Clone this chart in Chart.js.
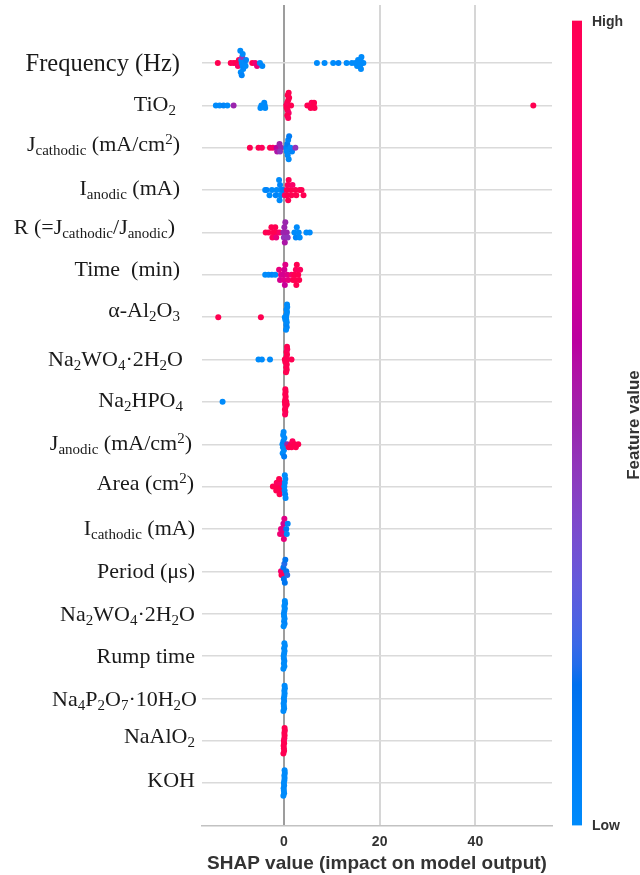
<!DOCTYPE html>
<html>
<head>
<meta charset="utf-8">
<script src="https://cdn.jsdelivr.net/npm/chart.js@4.4.1/dist/chart.umd.min.js"></script>
<style>
  html, body { margin: 0; padding: 0; background: #ffffff; }
  #wrap { position: relative; width: 640px; height: 875px; }
</style>
</head>
<body>
<div id="wrap"><canvas id="shap"></canvas></div>
<script>
// Feature names, top (most important) to bottom; _{..} is a subscript, ^{..} a superscript
const featureLabels = [
  'Frequency (Hz)',
  'TiO_{2}',
  'J_{cathodic} (mA/cm^{2})',
  'I_{anodic} (mA)',
  'R (=J_{cathodic}/J_{anodic})',
  'Time  (min)',
  'α-Al_{2}O_{3}',
  'Na_{2}WO_{4}·2H_{2}O',
  'Na_{2}HPO_{4}',
  'J_{anodic} (mA/cm^{2})',
  'Area (cm^{2})',
  'I_{cathodic} (mA)',
  'Period (μs)',
  'Na_{2}WO_{4}·2H_{2}O',
  'Rump time',
  'Na_{4}P_{2}O_{7}·10H_{2}O',
  'NaAlO_{2}',
  'KOH'
];

const xTicks = [0, 20, 40];

// Each entry: [SHAP value, normalised feature value (0 = low, 1 = high)]
const FREQUENCY = [
  [-13.8, 1], [-11.1, 1], [-10.5, 0.95], [-10.0, 1], [-9.6, 0.9], [-9.4, 1],
  [-8.8, 0], [-8.6, 0], [-8.9, 0], [-8.5, 0.02], [-8.7, 0.45], [-9.0, 0], [-8.6, 0], [-8.8, 0.05], [-9.1, 0],
  [-8.2, 0], [-8.0, 0], [-7.9, 0.05],
  [-6.6, 1], [-6.0, 0.85], [-5.6, 0.8], [-5.0, 0], [-4.5, 0.02],
  [6.9, 0], [8.5, 0], [10.3, 0], [11.4, 0.05], [13.1, 0], [14.2, 0],
  [14.9, 0], [15.3, 0], [15.5, 0],
  [15.8, 0], [15.9, 0], [16.0, 0], [16.1, 0], [16.2, 0],
  [16.6, 0]
];
const TIO2 = [
  [-14.2, 0], [-13.4, 0], [-12.6, 0.05], [-11.8, 0], [-10.5, 0.5],
  [-4.0, 0], [-3.9, 0], [-4.1, 0.02], [-4.7, 0], [-4.9, 0],
  [0.5, 1], [0.6, 1], [0.7, 0.95], [0.8, 1], [0.9, 1], [1.0, 0.9], [1.1, 1], [0.7, 1], [0.8, 1], [0.9, 0.95], [1.0, 1],
  [1.5, 1],
  [4.9, 1], [5.4, 1], [5.6, 1], [5.8, 0.95], [6.2, 1], [6.4, 1], [6.3, 1],
  [52.1, 1]
];
const J_CATHODIC = [
  [-7.1, 1], [-5.3, 1], [-4.6, 0.95], [-2.9, 1], [-2.3, 0.9],
  [-1.5, 0.6], [-1.4, 0.55],
  [-0.6, 0.5], [-0.8, 0.45], [-0.9, 0.5],
  [0.5, 0.05], [0.6, 0], [0.7, 0.1], [0.8, 0], [0.9, 0.05], [1.0, 0], [1.1, 0.1],
  [1.4, 0], [1.7, 0.05],
  [2.4, 0.45]
];
const I_ANODIC = [
  [-3.9, 0], [-3.6, 0.05], [-3.0, 0], [-2.5, 0],
  [-1.5, 0], [-1.7, 0.05],
  [-0.6, 0], [-0.7, 0], [-0.8, 0.05], [-0.9, 0], [-1.0, 0],
  [-0.2, 0.1], [0.2, 0.9],
  [0.6, 1], [0.7, 1], [0.8, 0.95], [0.9, 1], [1.0, 1],
  [1.4, 1], [1.6, 1], [1.8, 0.9],
  [2.4, 1], [2.6, 1], [3.3, 1], [3.7, 1], [4.1, 1]
];
const R_RATIO = [
  [-3.8, 1], [-3.2, 1],
  [-2.2, 1], [-2.4, 0.95], [-2.6, 1],
  [-1.4, 1], [-1.6, 0.8], [-1.8, 1],
  [-0.9, 0.9],
  [-0.1, 0.5], [0.0, 0.45], [0.1, 0.5], [0.2, 0.55], [0.3, 0.5],
  [0.6, 0.5], [0.8, 0.45],
  [2.2, 0], [2.5, 0.05], [2.7, 0],
  [3.1, 0], [3.3, 0],
  [4.7, 0], [5.4, 0]
];
const TIME = [
  [-3.9, 0], [-3.2, 0], [-2.5, 0.05], [-1.8, 0],
  [-0.6, 0.75], [-0.8, 0.7], [-1.0, 0.8],
  [-0.2, 0.7], [0.0, 0.75], [0.1, 0.7], [0.2, 0.65], [0.3, 0.75],
  [0.7, 0.75], [0.9, 0.8],
  [1.6, 0.9], [1.9, 1],
  [2.2, 1], [2.4, 1], [2.5, 0.95], [2.6, 1], [2.7, 1],
  [3.0, 1], [3.2, 1], [3.4, 0.95]
];
const ALUMINA = [
  [-13.7, 1], [-4.8, 1],
  [0.45, 0], [0.5, 0], [0.55, 0.02], [0.6, 0], [0.65, 0], [0.5, 0], [0.55, 0], [0.6, 0.05], [0.7, 0], [0.45, 0], [0.65, 0],
  [0.2, 0], [0.3, 0]
];
const NA2WO4_A = [
  [-5.3, 0], [-4.6, 0], [-2.9, 0],
  [0.45, 1], [0.5, 1], [0.55, 0.95], [0.6, 1], [0.65, 1], [0.5, 1], [0.55, 1], [0.6, 1], [0.7, 0.95], [0.45, 1], [0.65, 1],
  [0.2, 1], [0.3, 1],
  [1.6, 1]
];
const NA2HPO4 = [
  [-12.8, 0],
  [0.2, 1], [0.25, 1], [0.3, 1], [0.35, 0.95], [0.38, 1], [0.22, 1], [0.28, 1], [0.32, 1], [0.36, 1], [0.25, 0.95], [0.3, 1],
  [0.5, 1], [0.6, 1]
];
const J_ANODIC = [
  [-0.3, 0], [-0.2, 0], [-0.1, 0.05], [0.0, 0], [0.1, 0], [-0.25, 0], [-0.15, 0], [0.05, 0.1], [-0.05, 0],
  [0.7, 0.5], [1.0, 1],
  [1.5, 1], [1.6, 1], [1.8, 0.95],
  [2.2, 1], [2.5, 1],
  [3.0, 1]
];
const AREA = [
  [-2.3, 1],
  [-1.4, 1], [-1.6, 1], [-1.5, 0.95],
  [-0.6, 1], [-0.8, 1], [-0.7, 0.9], [-0.9, 1], [-1.0, 1],
  [0.1, 0], [0.15, 0], [0.2, 0], [0.25, 0.05], [0.3, 0], [0.35, 0], [0.2, 0]
];
const I_CATHODIC = [
  [-0.6, 0.8], [-0.8, 0.85],
  [-0.3, 0.75], [-0.2, 0.8], [-0.1, 0.7], [0.0, 0.8], [0.1, 0.75],
  [0.5, 0.1], [0.6, 0], [0.8, 0.05]
];
const PERIOD = [
  [-0.6, 0.85], [-0.5, 1],
  [-0.3, 0.9], [-0.2, 0.95], [-0.1, 0.15], [0.0, 0.15], [0.1, 0.2], [0.2, 0.15], [0.3, 0.15],
  [0.5, 0.15], [0.7, 0.2]
];
const NA2WO4_B = [
  [0.0, 0], [0.05, 0], [0.1, 0.02], [0.15, 0], [0.2, 0], [0.05, 0], [0.1, 0], [0.15, 0.05], [0.25, 0], [-0.05, 0], [0.2, 0]
];
const RUMP_TIME = [
  [-0.05, 0], [0.0, 0], [0.05, 0], [0.1, 0.02], [0.15, 0], [0.0, 0], [0.05, 0], [0.1, 0], [0.2, 0], [-0.1, 0], [0.1, 0]
];
const NA4P2O7 = [
  [0.0, 0], [0.05, 0.02], [0.1, 0], [-0.05, 0], [0.15, 0], [0.0, 0], [0.1, 0], [0.05, 0], [0.2, 0], [-0.1, 0], [0.15, 0]
];
const NAALO2 = [
  [0.0, 1], [0.05, 1], [0.1, 0.97], [-0.05, 1], [0.15, 1], [0.0, 1], [0.1, 1], [0.05, 1], [0.2, 1], [-0.1, 1], [0.15, 1]
];
const KOH = [
  [0.0, 0], [0.05, 0], [0.1, 0], [-0.05, 0.02], [0.15, 0], [0.0, 0], [0.1, 0], [0.05, 0], [0.2, 0], [-0.1, 0], [0.15, 0]
];

const featureRows = [
  FREQUENCY, TIO2, J_CATHODIC, I_ANODIC, R_RATIO, TIME, ALUMINA, NA2WO4_A, NA2HPO4,
  J_ANODIC, AREA, I_CATHODIC, PERIOD, NA2WO4_B, RUMP_TIME, NA4P2O7, NAALO2, KOH
];

// Hand placement of the typeset feature names: [shift right, shift down, font size] in px
const labelSetting = [
  [-15, 0, 24.5], [-19, -2, 22], [-15, -4, 22], [-15, -3, 22], [-20, -6, 22], [-15, -6, 22],
  [-15, -8, 22], [-12, -1, 22], [-12, -2, 22], [-3, -2, 22], [-1, -4, 22], [0, -1, 22],
  [0, -1, 22], [0, 0, 22], [0, 0, 22], [2, 0, 22], [0, -5, 22], [0, -4, 22]
];

// ---- colour map: blue (low) -> purple -> red (high), interpolated in LCh ----
function lchToRgb(L, C, H) {
  const a = C * Math.cos(H), b = C * Math.sin(H);
  const fy = (L + 16) / 116, fx = fy + a / 500, fz = fy - b / 200;
  const d = 6 / 29;
  const finv = t => (t > d ? t * t * t : 3 * d * d * (t - 4 / 29));
  const X = 0.95047 * finv(fx), Y = finv(fy), Z = 1.08883 * finv(fz);
  const r = 3.2406 * X - 1.5372 * Y - 0.4986 * Z;
  const g = -0.9689 * X + 1.8758 * Y + 0.0415 * Z;
  const bl = 0.0557 * X - 0.2040 * Y + 1.0570 * Z;
  const gam = c => {
    c = Math.min(1, Math.max(0, c));
    return c <= 0.0031308 ? 12.92 * c : 1.055 * Math.pow(c, 1 / 2.4) - 0.055;
  };
  return [gam(r), gam(g), gam(bl)].map(v => Math.round(v * 255));
}
function featureColor(t) {
  const L = t < 0.5 ? 54 - 14 * (t / 0.5) : 40 + 14 * ((t - 0.5) / 0.5);
  const C = 70 + 20 * t;
  const hBlue = 4.6588, hRed = 0.35470565 + 2 * Math.PI;
  const H = hBlue + (hRed - hBlue) * t;
  const [r, g, b] = lchToRgb(L, C, H);
  return `rgb(${r},${g},${b})`;
}

// ---- beeswarm: stack points that share an x bin, alternating above and below the row ----
const BIN_WIDTH = 0.8;
const ROW_HEIGHT = 0.4;
function swarm(rowIndex, points) {
  const bins = points.map(p => Math.round(p[0] / BIN_WIDTH));
  const order = points.map((_, i) => i).sort((a, b) => bins[a] - bins[b] || a - b);
  const ys = new Array(points.length).fill(0);
  let layer = 0, lastBin = null;
  order.forEach(i => {
    if (bins[i] !== lastBin) layer = 0;
    ys[i] = Math.ceil(layer / 2) * ((layer % 2) * 2 - 1);
    layer += 1;
    lastBin = bins[i];
  });
  const scale = 0.9 * ROW_HEIGHT / (Math.max(...ys) + 1);
  return points.map((p, i) => ({ x: p[0], y: rowIndex + ys[i] * scale }));
}

const datasets = featureRows.map((rows, i) => ({
  label: featureLabels[i],
  data: swarm(i, rows),
  pointBackgroundColor: rows.map(p => featureColor(p[1])),
  pointBorderWidth: 0,
  pointRadius: 3,
  pointHoverRadius: 3,
  showLine: false
}));

const SANS = '"Liberation Sans", Arial, Helvetica, sans-serif';
const SERIF = '"Liberation Serif", "Times New Roman", serif';

function parseMarkup(str) {
  const out = [];
  const re = /([_^])\{([^}]*)\}/g;
  let last = 0, m;
  while ((m = re.exec(str))) {
    if (m.index > last) out.push({ text: str.slice(last, m.index), kind: 'base' });
    out.push({ text: m[2], kind: m[1] === '_' ? 'sub' : 'sup' });
    last = re.lastIndex;
  }
  if (last < str.length) out.push({ text: str.slice(last), kind: 'base' });
  return out;
}

const SMALL_RATIO = 15 / 22;
const featureNamePlugin = {
  id: 'featureNames',
  afterDraw(chart) {
    const { ctx } = chart;
    const yScale = chart.scales.y;
    ctx.save();
    ctx.fillStyle = '#1a1a1a';
    ctx.textBaseline = 'alphabetic';
    ctx.textAlign = 'left';
    featureLabels.forEach((label, i) => {
      const [dx, dy, size] = labelSetting[i];
      const small = size * SMALL_RATIO;
      const segs = parseMarkup(label);
      let total = 0;
      segs.forEach(s => {
        ctx.font = `${s.kind === 'base' ? size : small}px ${SERIF}`;
        s.w = ctx.measureText(s.text).width;
        total += s.w;
      });
      const right = chart.chartArea.left - 7 + dx;
      const baseline = yScale.getPixelForValue(i) + size * 0.34 + dy;
      let x = right - total;
      segs.forEach(s => {
        ctx.font = `${s.kind === 'base' ? size : small}px ${SERIF}`;
        const off = s.kind === 'sub' ? size * 0.18 : s.kind === 'sup' ? -size * 0.32 : 0;
        ctx.fillText(s.text, x, baseline + off);
        x += s.w;
      });
    });
    ctx.restore();
  }
};

const colorBarPlugin = {
  id: 'colorBar',
  afterDraw(chart) {
    const { ctx, chartArea } = chart;
    const top = chart.scales.y.getPixelForValue(-1);
    const bottom = chartArea.bottom;
    const x0 = chartArea.right + 20, w = 10;
    const grad = ctx.createLinearGradient(0, bottom, 0, top);
    for (let k = 0; k <= 40; k++) grad.addColorStop(k / 40, featureColor(k / 40));
    ctx.save();
    ctx.fillStyle = grad;
    ctx.fillRect(x0, top, w, bottom - top);
    ctx.fillStyle = '#333333';
    ctx.font = `bold 14px ${SANS}`;
    ctx.textAlign = 'left';
    ctx.textBaseline = 'middle';
    ctx.fillText('High', x0 + w + 10, top + 1);
    ctx.fillText('Low', x0 + w + 10, bottom + 1);
    ctx.translate(638.5, (top + bottom) / 2 + 2);
    ctx.rotate(-Math.PI / 2);
    ctx.textAlign = 'center';
    ctx.textBaseline = 'alphabetic';
    ctx.font = `bold 17px ${SANS}`;
    ctx.fillText('Feature value', 0, 0);
    ctx.restore();
  }
};

new Chart(document.getElementById('shap'), {
  type: 'scatter',
  data: { datasets },
  options: {
    responsive: true,
    maintainAspectRatio: false,
    animation: false,
    events: [],
    layout: { padding: { left: 202, right: 88, top: 5, bottom: 0 } },
    plugins: { legend: { display: false }, tooltip: { enabled: false } },
    scales: {
      x: {
        type: 'linear',
        min: -17.1,
        max: 56,
        z: 0,
        afterBuildTicks: axis => { axis.ticks = xTicks.map(v => ({ value: v })); },
        grid: {
          drawTicks: false,
          lineWidth: 2,
          color: c => (c.tick && c.tick.value === 0 ? '#9d9d9d' : '#d6d6d6')
        },
        border: { display: true, color: '#c2c2c2', width: 1.5 },
        ticks: {
          padding: 8,
          color: '#333333',
          font: { family: SANS, size: 14, weight: 'bold' },
          maxRotation: 0
        },
        title: {
          display: true,
          text: 'SHAP value (impact on model output)',
          color: '#333333',
          font: { family: SANS, size: 19, weight: 'bold' },
          padding: { top: -6, bottom: 0 }
        }
      },
      y: {
        type: 'linear',
        reverse: true,
        min: -1.37,
        max: 18,
        z: -1,
        afterBuildTicks: axis => { axis.ticks = featureLabels.map((_, i) => ({ value: i })); },
        grid: { drawTicks: false, lineWidth: 1.4, color: '#dadada' },
        border: { display: false },
        ticks: { display: false }
      }
    }
  },
  plugins: [featureNamePlugin, colorBarPlugin]
});
</script>
</body>
</html>
